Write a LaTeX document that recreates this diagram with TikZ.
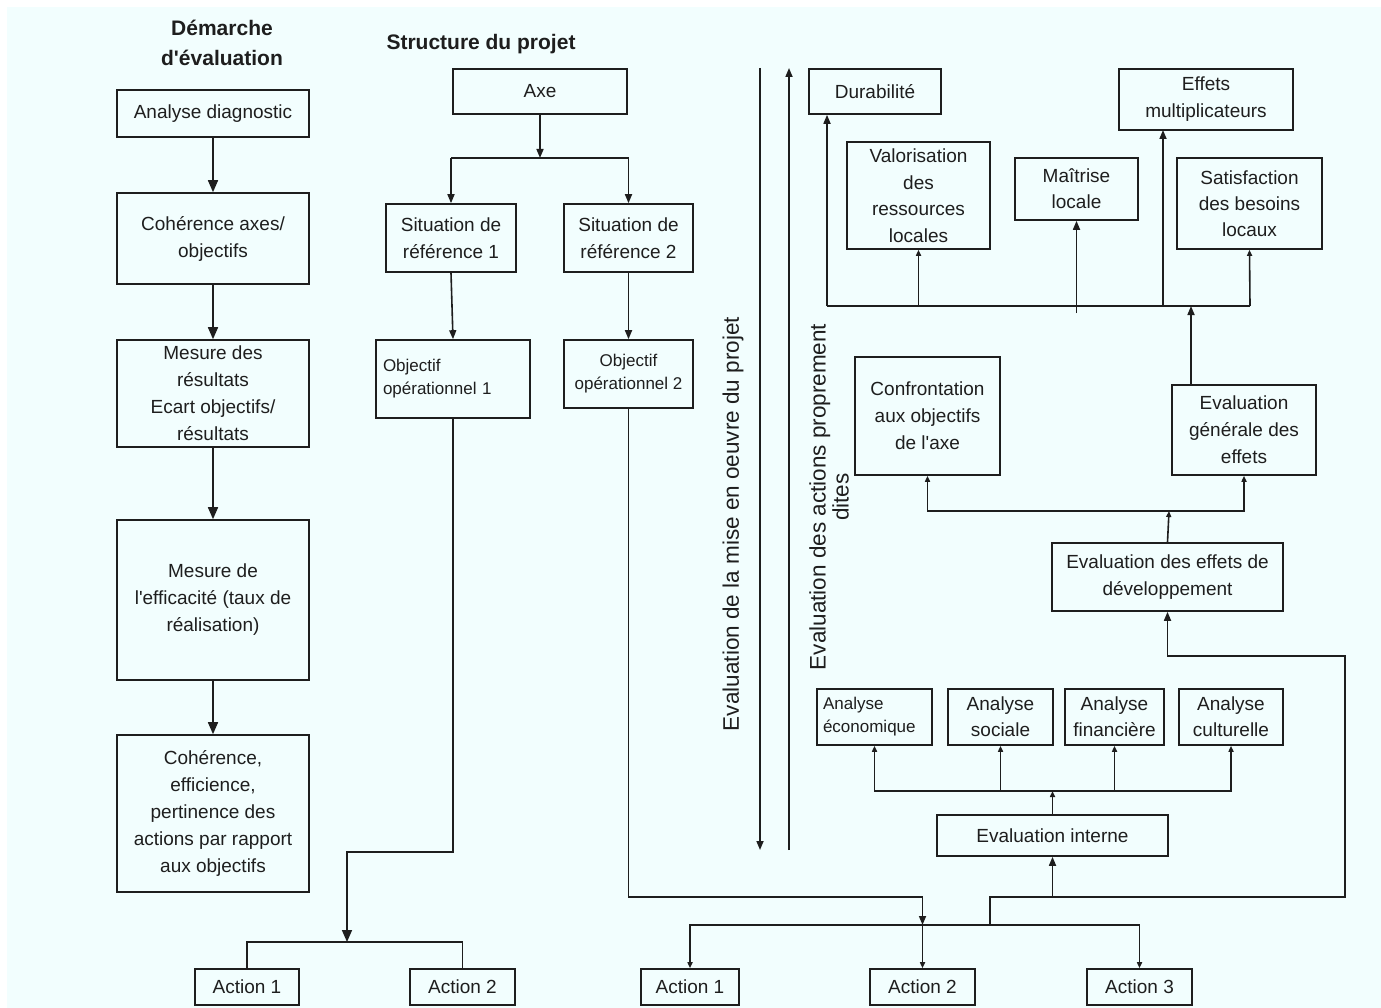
\documentclass[tikz,border=0pt]{standalone}
\usepackage{fontspec}
\setmainfont{Liberation Sans}
\usetikzlibrary{arrows.meta}
\definecolor{bgc}{RGB}{242,254,254}
\definecolor{ink}{RGB}{30,30,30}
\newcommand{\apos}{\textquotesingle}
\begin{document}
\begin{tikzpicture}[x=1pt,y=-1pt,
  every node/.style={text=ink, font=\fontsize{19}{27}\selectfont},
  bx/.style={draw=ink, line width=1.6pt, inner sep=0pt, align=center},
  ln/.style={draw=ink, line width=1.6pt},
  big/.style={ln, -{Triangle[length=12pt,width=10pt]}},
  mid/.style={ln, -{Triangle[length=9pt,width=7pt]}},
  sml/.style={ln, -{Triangle[length=6pt,width=5pt]}},
  ttl/.style={font=\fontsize{21}{30}\selectfont\bfseries, align=center},
  smallf/.style={font=\fontsize{17}{23}\selectfont}
]
\useasboundingbox (0,0) rectangle (1381,1008);
\fill[bgc] (7,7) rectangle (1381,1008);

% titles
\node[ttl] (t1) at (222,43) {Démarche\\d\apos évaluation};
\node[ttl] (t2) at (481,44) {Structure du projet};

% left column
\node[bx, minimum width=192pt, minimum height=47pt] (ad) at (213,113.5) {Analyse diagnostic};
\node[bx, minimum width=192pt, minimum height=91pt] (ca) at (213,238.5) {Cohérence axes/\\objectifs};
\node[bx, minimum width=192pt, minimum height=107pt] (mr) at (213,393.5) {Mesure des\\résultats\\Ecart objectifs/\\résultats};
\node[bx, minimum width=192pt, minimum height=160pt] (me) at (213,600) {Mesure de\\l\apos efficacité (taux de\\réalisation)};
\node[bx, minimum width=192pt, minimum height=157pt] (ce) at (213,813.5) {Cohérence,\\efficience,\\pertinence des\\actions par rapport\\aux objectifs};
\draw[big] (ad) -- (ca);
\draw[big] (ca) -- (mr);
\draw[big] (mr) -- (me);
\draw[big] (me) -- (ce);

% project structure
\node[bx, minimum width=174pt, minimum height=45pt] (axe) at (540,91.5) {Axe};
\node[bx, minimum width=130pt, minimum height=68pt] (s1) at (451,238) {Situation de\\référence 1};
\node[bx, minimum width=129pt, minimum height=68pt] (s2) at (628.5,238) {Situation de\\référence 2};
\node[bx, minimum width=154pt, minimum height=78pt, smallf, align=left, text width=140pt] (o1) at (453,379) {Objectif\\opérationnel 1};
\node[bx, minimum width=129pt, minimum height=68pt, smallf] (o2) at (628.5,374) {Objectif\\opérationnel 2};
\coordinate (j1) at (540,158);
\draw[mid] (axe.south) -- (j1);
\draw[ln] (j1 -| s1) -- (j1 -| s2);
\draw[mid] (j1 -| s1) -- (s1.north);
\draw[mid] (j1 -| s2) -- (s2.north);
\draw[mid] (s1.south) -- (o1.north);
\draw[mid] (s2.south) -- (o2.north);

% left actions
\node[bx, minimum width=104pt, minimum height=36pt] (al1) at (247,987) {Action 1};
\node[bx, minimum width=105pt, minimum height=36pt] (al2) at (462.5,987) {Action 2};
\coordinate (k1) at (347,852);
\coordinate (k2) at (347,942);
\draw[big] (o1.south) |- (k1) -- (k2);
\draw[ln] (al1.north) |- (k2) -| (al2.north);

% right actions
\node[bx, minimum width=98pt, minimum height=36pt] (ar1) at (690,987) {Action 1};
\node[bx, minimum width=105pt, minimum height=36pt] (ar2) at (922.5,987) {Action 2};
\node[bx, minimum width=105pt, minimum height=36pt] (ar3) at (1139.5,987) {Action 3};
\coordinate (m1) at (922.5,897);
\coordinate (m2) at (922.5,925);
\draw[ln] (o2.south) |- (m1);
\draw[mid] (m1) -- (m2);
\draw[sml] (m2) -| (ar1.north);
\draw[sml] (m2) -| (ar3.north);
\draw[sml] (m2) -- (ar2.north);

% vertical phase arrows
\coordinate (v1t) at (760,68);
\coordinate (v1b) at (760,850);
\coordinate (v2t) at (789,68);
\coordinate (v2b) at (789,850);
\draw[mid] (v1t) -- (v1b);
\draw[mid] (v2b) -- (v2t);
\node[rotate=90, font=\fontsize{22.5}{28}\selectfont] (r1) at (733,524) {Evaluation de la mise en oeuvre du projet};
\node[rotate=90, align=center, font=\fontsize{22.5}{23}\selectfont] (r2) at (829,497) {Evaluation des actions proprement\\dites};

% right top
\node[bx, minimum width=132pt, minimum height=45pt] (du) at (875,91.5) {Durabilité};
\node[bx, minimum width=174pt, minimum height=61pt] (em) at (1206,99.5) {Effets\\multiplicateurs};
\node[bx, minimum width=143pt, minimum height=107pt, font=\fontsize{19}{26.5}\selectfont] (va) at (918.5,195.5) {Valorisation\\des\\ressources\\locales};
\node[bx, minimum width=123pt, minimum height=62pt, font=\fontsize{19}{26}\selectfont] (ma) at (1076.5,189) {Maîtrise\\locale};
\node[bx, minimum width=145pt, minimum height=91pt, font=\fontsize{19}{26}\selectfont] (sa) at (1249.5,203.5) {Satisfaction\\des besoins\\locaux};
\coordinate (h0) at (827,306);
\coordinate (h5) at (1250,306);
\coordinate (hg) at (1191,306);
\draw[ln] (h0) -- (h5);
\draw[mid] (h0) -- (h0 |- du.south);
\draw[sml] (va.south |- h0) -- (va.south);
\draw[mid] (1076.5,313) -- (ma.south);
\draw[mid] (1163,306) -- (1163,130);
\draw[sml] (h5) -- (sa.south);

% right middle
\node[bx, minimum width=145pt, minimum height=118pt] (co) at (927.5,416) {Confrontation\\aux objectifs\\de l\apos axe};
\node[bx, minimum width=144pt, minimum height=90pt] (eg) at (1244,430) {Evaluation\\générale des\\effets};
\node[bx, minimum width=231pt, minimum height=68pt] (ed) at (1167.5,577) {Evaluation des effets de\\développement};
\draw[mid] (hg |- eg.north) -- (hg);
\coordinate (q1) at (1169,511);
\draw[sml] (ed.north) -- (q1);
\draw[sml] (q1) -| (co.south);
\draw[sml] (q1) -| (eg.south);

% analyses
\node[bx, minimum width=115pt, minimum height=56pt, smallf, align=left, text width=103pt] (an1) at (874.5,717) {Analyse\\économique};
\node[bx, minimum width=105pt, minimum height=56pt, font=\fontsize{19}{26}\selectfont] (an2) at (1000.5,717) {Analyse\\sociale};
\node[bx, minimum width=99pt, minimum height=56pt, font=\fontsize{19}{26}\selectfont] (an3) at (1114.5,717) {Analyse\\financière};
\node[bx, minimum width=104pt, minimum height=56pt, font=\fontsize{19}{26}\selectfont] (an4) at (1231,717) {Analyse\\culturelle};
\node[bx, minimum width=231pt, minimum height=41pt] (ei) at (1052.5,835.5) {Evaluation interne};
\coordinate (p1) at (1052.5,791);
\draw[sml] (ei.north) -- (p1);
\draw[sml] (p1) -| (an1.south);
\draw[sml] (p1) -| (an4.south);
\draw[sml] (an2.south |- p1) -- (an2.south);
\draw[sml] (an3.south |- p1) -- (an3.south);

% feedback loop
\coordinate (n1) at (990,925);
\coordinate (n2) at (990,897);
\coordinate (n3) at (1345,897);
\coordinate (n4) at (1345,656);
\draw[mid] (n1) -- (n2) -- (n3) -- (n4) -| (ed.south);
\draw[mid] (ei.south |- n2) -- (ei.south);
\end{tikzpicture}
\end{document}
